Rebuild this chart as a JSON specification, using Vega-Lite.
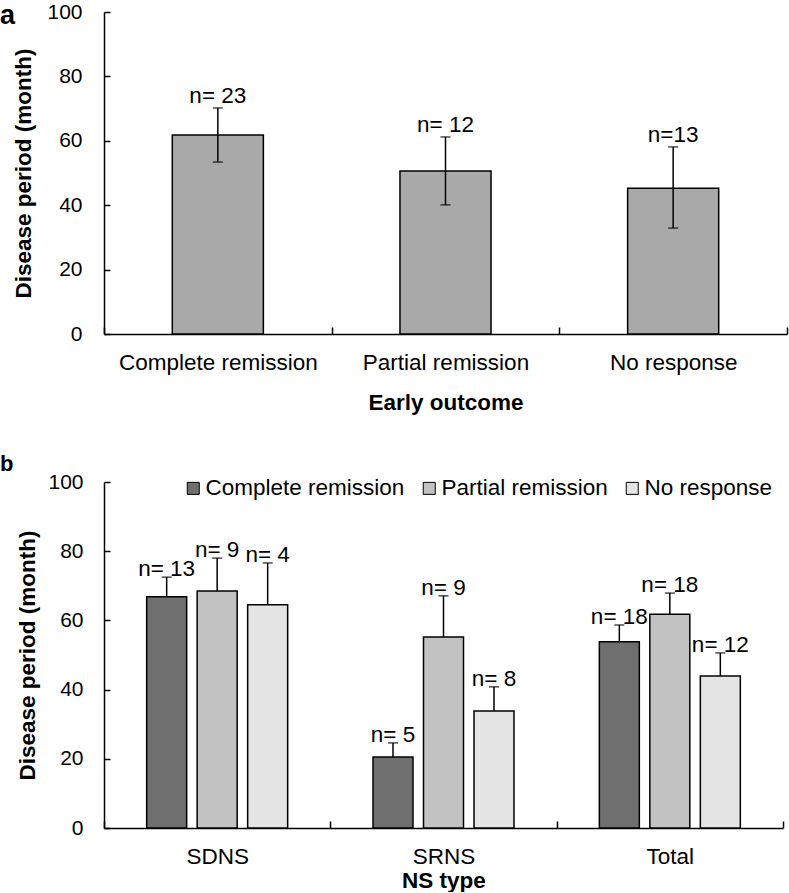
{
  "$schema": "https://vega.github.io/schema/vega-lite/v6.json",
  "background": "white",
  "padding": {"left": 0, "top": 1, "right": 2, "bottom": 0},
  "spacing": 39,
  "columns": 1,
  "align": "none",
  "resolve": {"scale": {"fill": "independent", "x": "independent", "y": "independent"}, "legend": {"fill": "independent"}},
  "config": {
    "font": "Liberation Sans",
    "view": {"stroke": null},
    "axis": {
      "grid": false,
      "domainColor": "black",
      "domainWidth": 1.5,
      "tickColor": "black",
      "tickWidth": 1.5,
      "labelColor": "black",
      "titleColor": "black",
      "labelFont": "Liberation Sans",
      "titleFont": "Liberation Sans",
      "titleFontWeight": "bold",
      "titleFontSize": 22.5,
      "labelLimit": 400
    },
    "axisX": {"tickBand": "extent", "tickSize": -7, "labelPadding": 24, "labelFontSize": 22.5, "labelAngle": 0},
    "axisY": {"tickSize": -6, "labelPadding": 28, "labelFontSize": 21, "titlePadding": 11}
  },
  "concat": [
    {
      "width": 683,
      "height": 322,
      "title": {"text": "a", "anchor": "start", "frame": "group", "orient": "top", "offset": -40, "dx": -104, "dy": 10, "baseline": "alphabetic", "fontSize": 27, "fontWeight": "bold", "font": "Liberation Sans", "color": "black"},
      "data": {"values": [
        {"outcome": "Complete remission", "mean": 61.8, "lo": 53.4, "hi": 70.2, "label": "n= 23"},
        {"outcome": "Partial remission", "mean": 50.6, "lo": 40.1, "hi": 61.2, "label": "n= 12"},
        {"outcome": "No response", "mean": 45.3, "lo": 32.9, "hi": 58.1, "label": "n=13"}
      ]},
      "encoding": {
        "x": {"field": "outcome", "type": "nominal", "sort": ["Complete remission", "Partial remission", "No response"],
              "scale": {"paddingInner": 0, "paddingOuter": 0},
              "axis": {"title": "Early outcome", "titlePadding": 18}}
      },
      "layer": [
        {
          "mark": {"type": "bar", "width": {"band": 0.4}, "fill": "#a9a9a9", "stroke": "black", "strokeWidth": 1.5},
          "encoding": {
            "y": {"field": "mean", "type": "quantitative", "scale": {"domain": [0, 100], "nice": false},
                  "axis": {"title": "Disease period (month)", "values": [0, 20, 40, 60, 80, 100]}}
          }
        },
        {
          "mark": {"type": "rule", "color": "black", "strokeWidth": 1.5},
          "encoding": {"y": {"field": "lo", "type": "quantitative"}, "y2": {"field": "hi"}}
        },
        {
          "mark": {"type": "tick", "color": "black", "thickness": 1.5, "size": 10},
          "encoding": {"y": {"field": "hi", "type": "quantitative"}}
        },
        {
          "mark": {"type": "tick", "color": "black", "thickness": 1.5, "size": 10},
          "encoding": {"y": {"field": "lo", "type": "quantitative"}}
        },
        {
          "mark": {"type": "text", "baseline": "alphabetic", "dy": -5, "fontSize": 22.5, "color": "black"},
          "encoding": {"y": {"field": "hi", "type": "quantitative"}, "text": {"field": "label"}}
        }
      ]
    },
    {
      "width": 679,
      "height": 346,
      "title": {"text": "b", "anchor": "start", "frame": "group", "orient": "top", "offset": -22, "dx": -104, "baseline": "alphabetic", "fontSize": 22, "fontWeight": "bold", "font": "Liberation Sans", "color": "black"},
      "data": {"values": [
        {"type": "SDNS", "outcome": "Complete remission", "mean": 66.8, "hi": 72.5, "label": "n= 13"},
        {"type": "SDNS", "outcome": "Partial remission", "mean": 68.5, "hi": 78.0, "label": "n= 9"},
        {"type": "SDNS", "outcome": "No response", "mean": 64.5, "hi": 76.6, "label": "n= 4"},
        {"type": "SRNS", "outcome": "Complete remission", "mean": 20.5, "hi": 24.6, "label": "n= 5"},
        {"type": "SRNS", "outcome": "Partial remission", "mean": 55.2, "hi": 67.1, "label": "n= 9"},
        {"type": "SRNS", "outcome": "No response", "mean": 33.8, "hi": 40.8, "label": "n= 8"},
        {"type": "Total", "outcome": "Complete remission", "mean": 53.8, "hi": 58.7, "label": "n= 18"},
        {"type": "Total", "outcome": "Partial remission", "mean": 61.8, "hi": 67.9, "label": "n= 18"},
        {"type": "Total", "outcome": "No response", "mean": 43.9, "hi": 50.6, "label": "n= 12"}
      ]},
      "encoding": {
        "x": {"field": "type", "type": "nominal", "sort": ["SDNS", "SRNS", "Total"],
              "scale": {"paddingInner": 0, "paddingOuter": 0},
              "axis": {"title": "NS type", "titlePadding": 2}},
        "xOffset": {"field": "outcome", "type": "nominal", "sort": ["Complete remission", "Partial remission", "No response"],
                    "scale": {"paddingInner": 0.208, "paddingOuter": 0.845}}
      },
      "layer": [
        {
          "mark": {"type": "bar", "stroke": "black", "strokeWidth": 1.5},
          "encoding": {
            "y": {"field": "mean", "type": "quantitative", "scale": {"domain": [0, 100], "nice": false},
                  "axis": {"title": "Disease period (month)", "labelPadding": 27, "titlePadding": 8, "values": [0, 20, 40, 60, 80, 100]}},
            "fill": {"field": "outcome", "type": "nominal", "sort": ["Complete remission", "Partial remission", "No response"],
                     "scale": {"domain": ["Complete remission", "Partial remission", "No response"], "range": ["#6f6f6f", "#c2c2c2", "#e4e4e4"]},
                     "legend": {"title": null, "orient": "none", "legendX": 78, "legendY": -5, "direction": "horizontal",
                                "symbolType": "square", "symbolSize": 144, "symbolStrokeColor": "black", "symbolStrokeWidth": 1,
                                "labelFontSize": 22.5, "labelFont": "Liberation Sans", "labelColor": "black", "labelOffset": 1,
                                "columnPadding": 13, "labelLimit": 400}}
          }
        },
        {
          "mark": {"type": "rule", "color": "black", "strokeWidth": 1.5},
          "encoding": {"y": {"field": "mean", "type": "quantitative"}, "y2": {"field": "hi"}}
        },
        {
          "mark": {"type": "tick", "color": "black", "thickness": 1.5, "size": 10},
          "encoding": {"y": {"field": "hi", "type": "quantitative"}}
        },
        {
          "mark": {"type": "text", "baseline": "alphabetic", "dy": -1, "fontSize": 22.5, "color": "black"},
          "encoding": {"y": {"field": "hi", "type": "quantitative"}, "text": {"field": "label"}}
        }
      ]
    }
  ]
}
